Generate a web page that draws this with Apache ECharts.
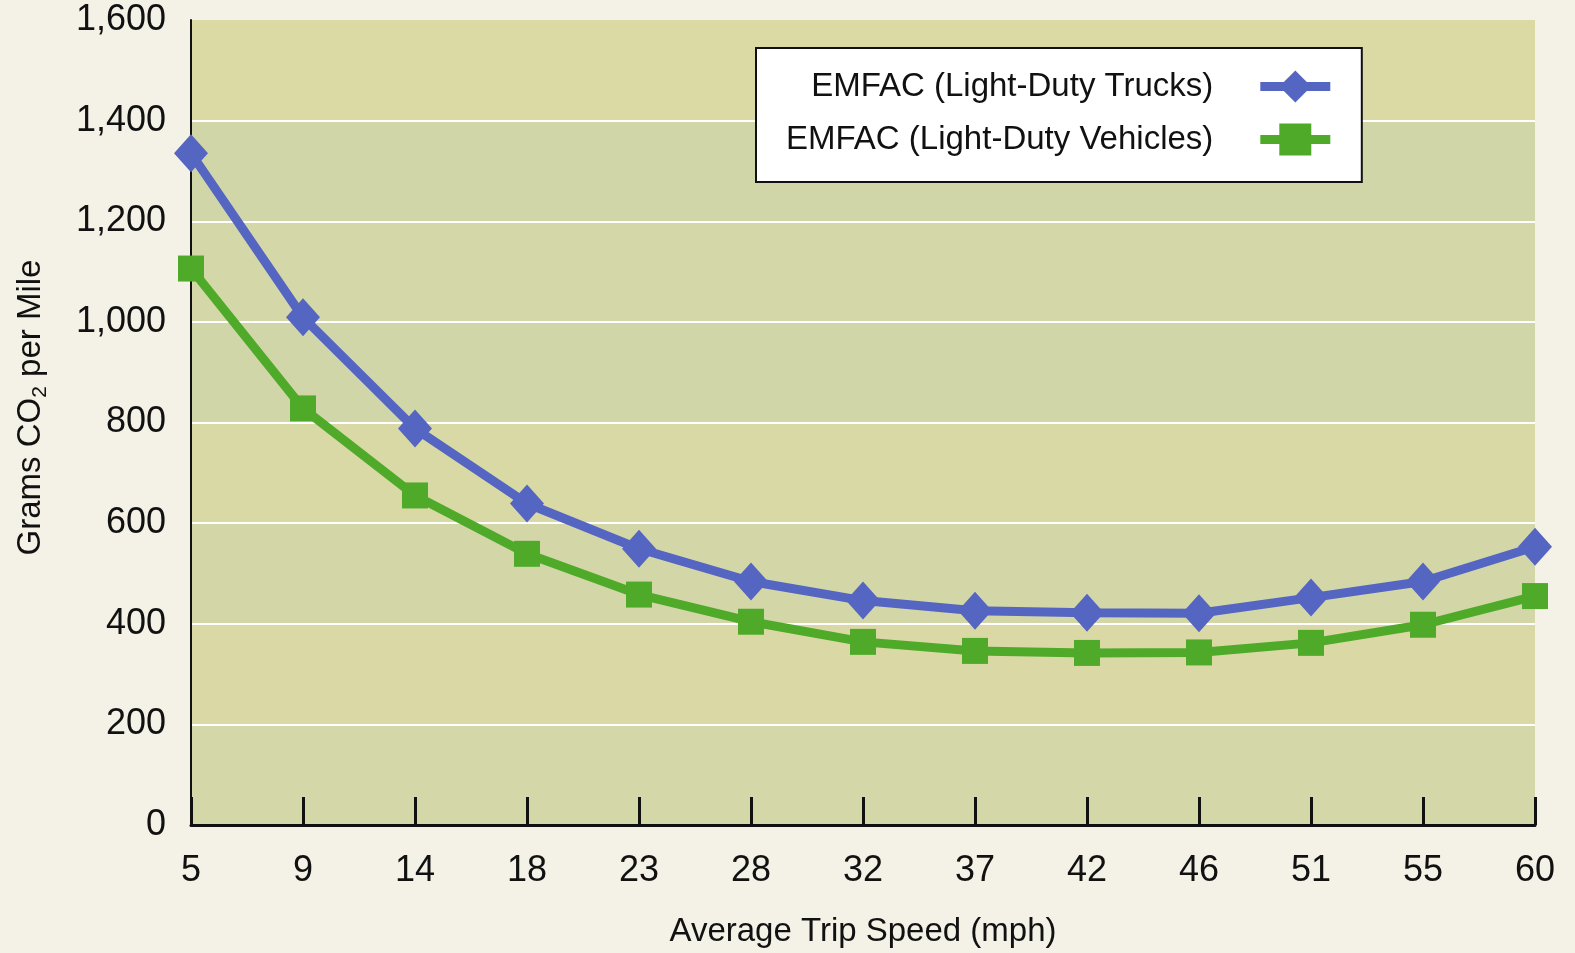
<!DOCTYPE html>
<html>
<head>
<meta charset="utf-8">
<title>EMFAC CO2 by trip speed</title>
<script src="https://cdn.jsdelivr.net/npm/echarts@6/dist/echarts.min.js"></script>
<style>
  html, body { margin: 0; padding: 0; background: #f4f1e6; }
  #main { width: 1575px; height: 953px; }
</style>
</head>
<body>
<div id="main"></div>
<script>
// data
const speeds = ['5', '9', '14', '18', '23', '28', '32', '37', '42', '46', '51', '55', '60'];
const trucks = [1335, 1009, 788, 639, 549, 484, 446, 426, 422, 421, 452, 484, 553];
const vehicles = [1106, 828, 655, 539, 458, 404, 364, 346, 342, 343, 362, 398, 455];
const yTicks = [0, 200, 400, 600, 800, 1000, 1200, 1400, 1600];

// plot band colours, bottom band first
const bandColors = ['#d4d7a7', '#dad9a5', '#d3d7a8', '#d9d9a5', '#d1d6a9', '#d4d7a7', '#d1d6a8', '#dcdaa4'];

const font = '"Liberation Sans", Arial, sans-serif';

let myChart = echarts.init(document.getElementById('main'));

let option = {
  backgroundColor: '#f4f1e6',
  animation: false,
  textStyle: { fontFamily: font },
  grid: {
    left: 191,
    right: 40,
    top: 20,
    bottom: 122
  },
  legend: {
    left: 756,
    top: 48,
    orient: 'vertical',
    align: 'right',
    selectedMode: false,
    backgroundColor: '#ffffff',
    borderColor: '#111111',
    borderWidth: 2,
    borderRadius: 0,
    padding: [22, 27, 26, 30],
    itemWidth: 70,
    itemHeight: 40,
    itemGap: 20,
    lineStyle: { width: 9 },
    textStyle: {
      fontFamily: font,
      fontSize: 33,
      color: '#111111',
      padding: [0, 42, 0, 0]
    },
    data: ['EMFAC (Light-Duty Trucks)', 'EMFAC (Light-Duty Vehicles)']
  },
  xAxis: {
    type: 'category',
    data: speeds,
    boundaryGap: false,
    name: 'Average Trip Speed (mph)',
    nameLocation: 'middle',
    nameGap: 90,
    nameTextStyle: { fontFamily: font, fontSize: 33, color: '#111111' },
    axisLine: { lineStyle: { color: '#111111', width: 3 } },
    axisTick: { inside: true, length: 28, lineStyle: { color: '#111111', width: 3 } },
    axisLabel: { fontFamily: font, fontSize: 36, color: '#111111', margin: 28 },
    splitLine: { show: false }
  },
  yAxis: {
    type: 'value',
    min: 0,
    max: 1600,
    interval: 200,
    name: '{n|Grams CO}{s|2}{n| per Mile}',
    nameLocation: 'middle',
    nameGap: 140,
    nameTextStyle: {
      padding: [0, 0, 0, 30],
      rich: {
        n: { fontFamily: font, fontSize: 33, color: '#111111', lineHeight: 40 },
        s: { fontFamily: font, fontSize: 21, color: '#111111', lineHeight: 40, verticalAlign: 'bottom' }
      }
    },
    axisLine: { show: true, lineStyle: { color: '#111111', width: 2 } },
    axisTick: { show: false },
    axisLabel: {
      fontFamily: font,
      fontSize: 36,
      color: '#111111',
      margin: 25,
      formatter: function (v) {
        return yTicks.indexOf(v) >= 0 ? v.toLocaleString('en-US') : '';
      }
    },
    splitLine: { show: true, showMaxLine: false, lineStyle: { color: '#ffffff', width: 2 } },
    splitArea: { show: true, areaStyle: { color: bandColors } }
  },
  series: [
    {
      name: 'EMFAC (Light-Duty Trucks)',
      type: 'line',
      data: trucks,
      symbol: 'diamond',
      symbolSize: [34, 38],
      lineStyle: { color: '#5565c2', width: 9 },
      itemStyle: { color: '#5565c2' },
      z: 3
    },
    {
      name: 'EMFAC (Light-Duty Vehicles)',
      type: 'line',
      data: vehicles,
      symbol: 'rect',
      symbolSize: 26,
      lineStyle: { color: '#4faa29', width: 9 },
      itemStyle: { color: '#4faa29' },
      z: 2
    }
  ]
};

option && myChart.setOption(option);
</script>
</body>
</html>
